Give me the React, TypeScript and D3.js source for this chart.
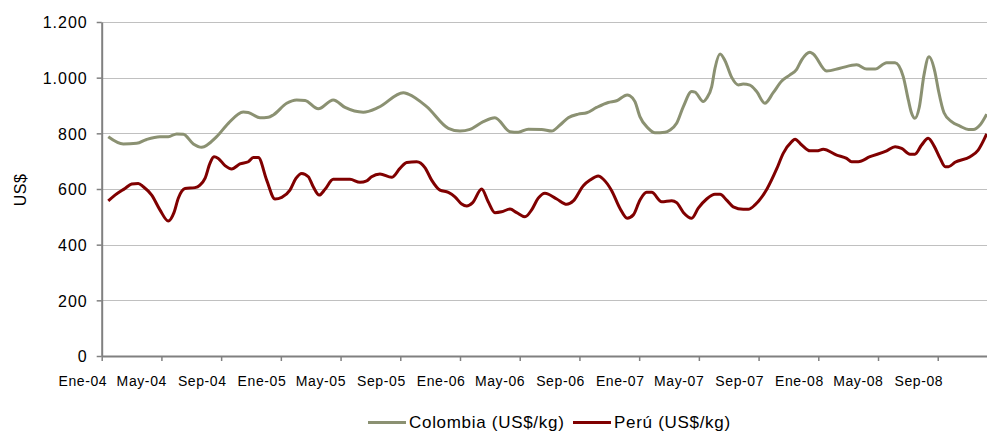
import React, { useEffect, useRef } from "react";
import * as d3 from "d3";

// months since Ene-2004, price US$/kg (x1000 in chart units)
const colombia: [number, number][] = [
  [0.44, 788], [1.45, 762], [2.34, 764], [3.01, 778], [3.9, 788], [4.46, 788],
  [5.02, 798], [5.47, 797], [6.14, 762], [6.7, 750], [7.7, 788], [8.48, 836],
  [9.48, 877], [9.82, 875], [10.6, 856], [11.16, 858], [11.49, 866], [12.39, 908],
  [13.06, 920], [13.62, 918], [14.51, 888], [15.51, 920], [16.3, 893], [17.52, 876],
  [18.53, 893], [20.2, 946], [20.54, 941], [21.77, 896], [23.22, 818], [24.0, 808],
  [24.67, 814], [25.56, 842], [26.34, 856], [27.35, 806], [27.9, 804], [28.57, 815],
  [29.47, 814], [30.14, 808], [30.7, 830], [31.25, 856], [31.92, 869], [32.49, 874],
  [33.15, 893], [33.93, 911], [34.49, 917], [35.2, 938], [35.38, 935], [35.72, 914],
  [36.05, 860], [36.61, 818], [37.06, 802], [37.73, 804], [38.07, 812], [38.51, 836],
  [38.96, 896], [39.52, 950], [39.74, 948], [40.29, 914], [40.52, 926], [40.86, 968],
  [41.08, 1034], [41.42, 1085], [41.75, 1061], [42.2, 1001], [42.64, 974], [42.97, 977],
  [43.42, 973], [43.87, 950], [44.42, 908], [44.98, 946], [45.55, 988], [46.1, 1010],
  [46.55, 1030], [46.89, 1064], [47.44, 1091], [47.66, 1085], [48.56, 1024], [49.45, 1034],
  [50.57, 1046], [51.24, 1031], [51.8, 1031], [52.58, 1054], [53.14, 1054], [53.69, 1004],
  [54.03, 920], [54.25, 872], [54.47, 854], [54.76, 893], [55.08, 1010], [55.41, 1075],
  [55.81, 1021], [56.04, 956], [56.42, 874], [56.93, 842], [57.49, 826], [58.05, 814],
  [58.38, 814], [58.83, 830], [59.28, 869],
];

const peru: [number, number][] = [
  [0.44, 557], [0.89, 578], [1.56, 602], [2.01, 618], [2.45, 620], [2.79, 608],
  [3.35, 578], [3.9, 525], [4.46, 485], [4.84, 515], [5.13, 567], [5.58, 602],
  [6.25, 605], [6.58, 614], [6.92, 638], [7.25, 692], [7.52, 716], [7.81, 710],
  [8.26, 684], [8.71, 672], [9.26, 690], [9.82, 698], [10.15, 713], [10.49, 713],
  [11.05, 632], [11.61, 564], [12.06, 570], [12.61, 596], [13.01, 638], [13.4, 656],
  [13.84, 644], [14.17, 608], [14.57, 578], [14.96, 599], [15.51, 635], [16.63, 635],
  [17.3, 624], [17.75, 629], [18.08, 644], [18.64, 654], [19.42, 642], [19.98, 674],
  [20.43, 695], [21.1, 698], [21.65, 677], [22.1, 632], [22.66, 596], [23.22, 588],
  [23.66, 572], [24.11, 546], [24.45, 539], [24.85, 551], [25.45, 600], [25.89, 554],
  [26.34, 515], [26.79, 518], [27.35, 528], [27.8, 515], [28.35, 500], [28.8, 525],
  [29.24, 567], [29.69, 585], [30.48, 564], [31.15, 545], [31.59, 557], [32.26, 612],
  [32.71, 632], [33.26, 647], [33.6, 635], [34.16, 594], [34.71, 531], [35.2, 495],
  [35.61, 507], [36.05, 560], [36.5, 588], [36.84, 588], [37.51, 554], [38.18, 558],
  [38.51, 551], [38.96, 516], [39.52, 495], [39.96, 531], [40.52, 564], [41.08, 581],
  [41.42, 581], [41.86, 560], [42.3, 536], [42.97, 527], [43.31, 527], [43.76, 543],
  [44.58, 602], [45.21, 672], [45.65, 728], [46.22, 770], [46.44, 779], [46.89, 758],
  [47.44, 737], [47.89, 737], [48.33, 743], [49.23, 722], [49.9, 710], [50.23, 698],
  [50.68, 698], [51.46, 716], [52.58, 737], [53.14, 752], [53.58, 746], [54.14, 725],
  [54.47, 725], [54.92, 758], [55.36, 782], [55.75, 755], [56.16, 710], [56.5, 680],
  [56.72, 680], [57.16, 696], [58.17, 716], [58.71, 740], [59.28, 798],
];

const monthTicks = [0, 4, 8, 12, 16, 20, 24, 28, 32, 36, 40, 44, 48, 52, 56];
const monthLabels = [
  "Ene-04", "May-04", "Sep-04", "Ene-05", "May-05", "Sep-05", "Ene-06", "May-06",
  "Sep-06", "Ene-07", "May-07", "Sep-07", "Ene-08", "May-08", "Sep-08",
];
const yTicks = [0, 200, 400, 600, 800, 1000, 1200];
const seriesNames = ["Colombia (US$/kg)", "Perú (US$/kg)"];
const colors = ["#8b9172", "#800000"];

const W = 987;
const H = 437;
const font = "'Liberation Sans', Arial, sans-serif";

const fmt = (v: number) => (v >= 1000 ? d3.format(",")(v).replace(",", ".") : String(v));

const App = () => {
  const ref = useRef<SVGSVGElement>(null);

  useEffect(() => {
    const svg = d3.select(ref.current);
    svg.selectAll("*").remove();

    const margin = { left: 101.7, right: 0, top: 22, bottom: 81 };

    const x = d3.scaleLinear().domain([0, 59.3]).range([margin.left, W - margin.right]);
    const y = d3.scaleLinear().domain([0, 1200]).range([H - margin.bottom, margin.top]);

    // gridlines
    svg.append("g")
      .selectAll("line")
      .data(yTicks.filter(d => d > 0))
      .enter().append("line")
      .attr("x1", x(0)).attr("x2", W)
      .attr("y1", d => Math.round(y(d)) + 0.5).attr("y2", d => Math.round(y(d)) + 0.5)
      .attr("stroke", "#c0c0c0").attr("stroke-width", 1);

    // y axis
    const gy = svg.append("g").attr("transform", `translate(${x(0)},0)`);
    gy.call(d3.axisLeft(y).tickValues(yTicks).tickSize(5).tickSizeOuter(0).tickFormat(d => fmt(+d)));
    gy.select(".domain").attr("stroke", "#808080").attr("stroke-width", 2);
    gy.selectAll(".tick line").attr("stroke", "#808080").attr("stroke-width", 1.5);
    gy.selectAll(".tick text")
      .attr("x", -14)
      .attr("dy", "0.36em")
      .attr("fill", "#000")
      .style("font-family", font)
      .style("font-size", "16px")
      .style("letter-spacing", "1px");

    // x axis
    const gx = svg.append("g").attr("transform", `translate(0,${y(0)})`);
    gx.call(d3.axisBottom(x).tickValues(monthTicks).tickSize(5).tickSizeOuter(0).tickFormat((_, i) => monthLabels[i]));
    gx.select(".domain").attr("stroke", "#808080").attr("stroke-width", 2);
    gx.selectAll(".tick line").attr("stroke", "#808080").attr("stroke-width", 1.5);
    gx.selectAll(".tick text")
      .attr("text-anchor", "end")
      .attr("x", 5)
      .attr("y", 30)
      .attr("dy", 0)
      .attr("fill", "#000")
      .style("font-family", font)
      .style("font-size", "14px")
      .style("letter-spacing", "0.6px");

    // y title
    svg.append("text")
      .attr("transform", `translate(26,190) rotate(-90)`)
      .attr("text-anchor", "middle")
      .style("font-family", font)
      .style("font-size", "16px")
      .style("letter-spacing", "0.5px")
      .text("US$");

    // lines
    const line = d3.line<[number, number]>()
      .x(d => x(d[0]))
      .y(d => y(d[1]))
      .curve(d3.curveMonotoneX);

    [colombia, peru].forEach((s, i) => {
      svg.append("path")
        .datum(s)
        .attr("fill", "none")
        .attr("stroke", colors[i])
        .attr("stroke-width", 3)
        .attr("stroke-linejoin", "round")
        .attr("d", line);
    });

    // legend
    const legendX = [368, 573];
    const lg = svg.append("g");
    seriesNames.forEach((name, i) => {
      lg.append("line")
        .attr("x1", legendX[i]).attr("x2", legendX[i] + 38)
        .attr("y1", 422.5).attr("y2", 422.5)
        .attr("stroke", colors[i]).attr("stroke-width", 3);
      lg.append("text")
        .attr("x", legendX[i] + 41)
        .attr("y", 428)
        .style("font-family", font)
        .style("font-size", "17px")
        .style("letter-spacing", "0.7px")
        .text(name);
    });
  }, []);

  return (
    <svg
      ref={ref}
      width={W}
      height={H}
      style={{ position: "absolute", left: 0, top: 0, background: "#fff" }}
    />
  );
};

export default App;
